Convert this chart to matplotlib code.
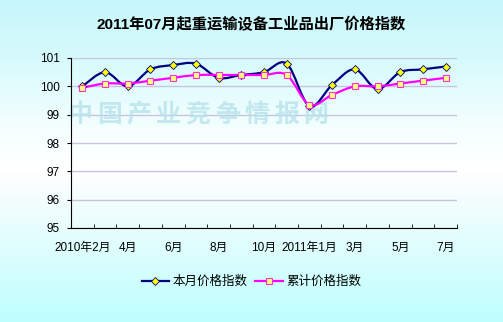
import matplotlib
matplotlib.use('Agg')
import matplotlib.pyplot as plt
import numpy as np
from matplotlib.path import Path
from matplotlib.patches import PathPatch
from matplotlib.lines import Line2D

plt.rcParams['font.family'] = ['Liberation Sans', 'Noto Sans CJK SC', 'DejaVu Sans']

# data
months = ['2010年2月', '3月', '4月', '5月', '6月', '7月', '8月', '9月', '10月', '11月',
          '2011年1月', '2月', '3月', '4月', '5月', '6月', '7月']
monthly = [100.0, 100.5, 100.0, 100.6, 100.75, 100.8, 100.3, 100.4, 100.5, 100.8,
           99.3, 100.05, 100.6, 99.9, 100.5, 100.6, 100.7]
cumulative = [99.95, 100.1, 100.1, 100.2, 100.3, 100.4, 100.4, 100.4, 100.4, 100.4,
              99.35, 99.7, 100.0, 100.0, 100.1, 100.2, 100.3]
label_every = 2
title = '2011年07月起重运输设备工业品出厂价格指数'
names = ['本月价格指数', '累计价格指数']
watermark = '中国产业竞争情报网'


# Excel style smooth line: cubic bezier through every point
def smooth_path(xs, ys):
    pts = np.column_stack([xs, ys]).astype(float)
    n = len(pts)
    verts = [pts[0]]
    codes = [Path.MOVETO]
    for i in range(n - 1):
        p0 = pts[max(i - 1, 0)]
        p1 = pts[i]
        p2 = pts[i + 1]
        p3 = pts[min(i + 2, n - 1)]
        verts += [p1 + (p2 - p0) / 6.0, p2 - (p3 - p1) / 6.0, p2]
        codes += [Path.CURVE4] * 3
    return Path(verts, codes)


fig = plt.figure(figsize=(5.03, 3.22), dpi=100)

# background gradient
bg = fig.add_axes([0, 0, 1, 1], zorder=-10)
rows = np.arange(322)
stops = [0, 60, 130, 170, 220, 321]
r = np.interp(rows, stops, [198, 215, 245, 255, 235, 190])
g = np.interp(rows, stops, [246, 250, 255, 255, 253, 255])
b = np.interp(rows, stops, [250, 252, 255, 255, 253, 255])
grad = np.stack([r, g, b], axis=1)[:, None, :] / 255.0
bg.imshow(grad, aspect='auto', extent=[0, 1, 0, 1])
bg.axis('off')

ax = fig.add_axes([71 / 503, 1 - 228 / 322, (457 - 71) / 503, (228 - 58) / 322])
ax.set_facecolor('none')
x = np.arange(len(months))

# watermark
for i, ch in enumerate(watermark):
    ax.text(80 / 503 + i * 29.5 / 503, 1 - 115 / 322, ch, transform=fig.transFigure,
            ha='center', va='center', fontsize=18, fontweight='bold',
            family=['Noto Sans CJK SC'], color='#b8e3ec', alpha=0.8, zorder=1)

ax.add_patch(PathPatch(smooth_path(x, monthly), fill=False, edgecolor='#000080',
                       lw=1.6, zorder=3))
ax.plot(x, monthly, linestyle='none', marker='D', ms=4.5, mfc='#ffff00',
        mec='#000080', mew=0.6, zorder=5)
ax.add_patch(PathPatch(smooth_path(x, cumulative), fill=False, edgecolor='#ff00ff',
                       lw=1.6, zorder=4))
ax.plot(x, cumulative, linestyle='none', marker='s', ms=5, mfc='#ffff80',
        mec='#ff33cc', mew=0.8, zorder=6)

ax.set_xlim(-0.5, len(months) - 0.5)
ax.set_ylim(95, 101)
ax.set_yticks(range(95, 102))
ax.yaxis.grid(True, color='#c8c4e0', lw=1)
ax.set_axisbelow(True)
for s in ['top', 'right']:
    ax.spines[s].set_visible(False)
ax.spines['left'].set_color('black')
ax.spines['bottom'].set_color('black')

ax.set_xticks(x[::label_every])
ax.set_xticklabels(months[::label_every])
ax.set_xticks(np.arange(len(months) + 1) - 0.5, minor=True)
ax.tick_params(axis='x', which='major', length=0, pad=10, labelsize=8.5)
ax.tick_params(axis='x', which='minor', direction='in', length=3, color='black')
ax.tick_params(axis='y', direction='out', length=3, pad=5, labelsize=8.5)

fig.text(0.5, 1 - 25 / 322, title, ha='center', va='center', fontsize=11,
         fontweight='bold')

handles = [
    Line2D([], [], color='#000080', lw=1.6, marker='D', ms=4.5, mfc='#ffff00',
           mec='#000080', mew=0.6),
    Line2D([], [], color='#ff00ff', lw=1.6, marker='s', ms=5, mfc='#ffff80',
           mec='#ff33cc', mew=0.8),
]
fig.legend(handles, names, loc='center', bbox_to_anchor=(0.5, 1 - 282 / 322),
           ncol=2, frameon=False, fontsize=9, handlelength=2.2, columnspacing=0.6,
           handletextpad=0.3)

fig.savefig('out.png', dpi=100)
